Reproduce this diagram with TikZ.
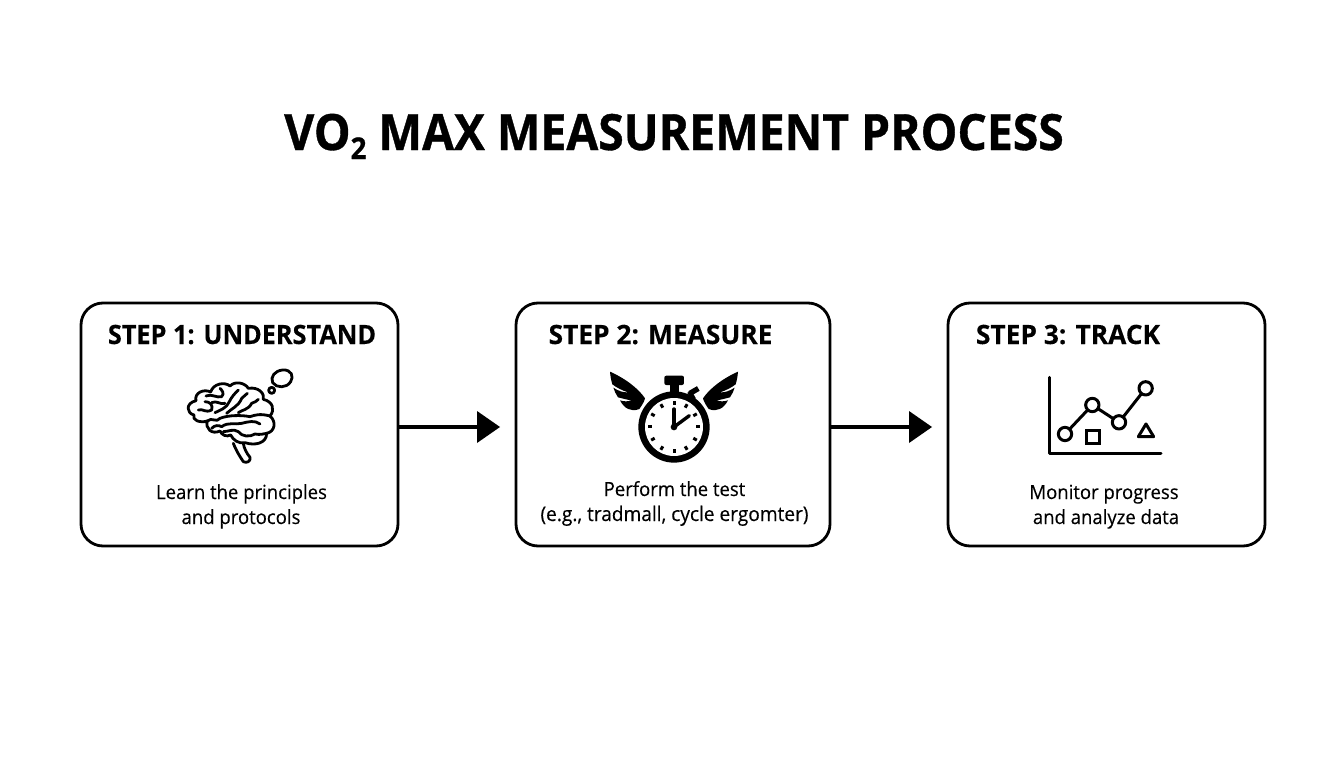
\documentclass[tikz,border=0pt]{standalone}
\usepackage{fontspec}
\setmainfont{Open Sans}
\newfontfamily\bodyfont{Open Sans}[FakeBold=0.3,FakeStretch=0.95]
\newfontfamily\headfont{Open Sans}[FakeStretch=0.95,BoldFeatures={FakeBold=0.25}]
\newfontfamily\headwide{Open Sans}[FakeStretch=0.99,BoldFeatures={FakeBold=0.25}]
\newfontfamily\titlefont{Open Sans}[FakeStretch=0.925,BoldFeatures={FakeBold=0.7}]
\tikzset{
  stepbox/.style={draw=black,fill=white,line width=2.8pt,rounded corners=22pt,minimum width=317pt,minimum height=243pt,inner sep=0pt,outer sep=0pt},
  stepname/.style={anchor=base,inner sep=0pt,font=\headfont\bfseries\fontsize{26.6}{28}\selectfont},
  stepwide/.style={stepname,font=\headwide\bfseries\fontsize{26.6}{28}\selectfont},
  bodytext/.style={anchor=base,inner sep=0pt,font=\bodyfont\fontsize{19.5}{22}\selectfont},
  flow/.style={line width=4pt},
  flowhead/.style={fill=black,draw=none},
  icon/.style={line width=2.8pt,line cap=round,line join=round},
}
\newcommand{\wingshape}{\fill (30,20) .. controls (75,40) and (115,70) .. (135,100) .. controls (133,110) and (125,122) .. (118,132)
 .. controls (105,137) and (95,137) .. (85,132) .. controls (75,128) and (66,118) .. (60,106)
 .. controls (72,110) and (84,110) .. (94,106) .. controls (80,104) and (66,100) .. (54,97)
 .. controls (48,88) and (43,78) .. (40,68) .. controls (55,78) and (70,83) .. (84,82)
 .. controls (66,76) and (50,68) .. (37,58) .. controls (33,45) and (31,32) .. (30,20) -- cycle;}
\begin{document}
\begin{tikzpicture}[x=1pt,y=-1pt]
\useasboundingbox (0,0) rectangle (1344,768);
\fill[white] (0,0) rectangle (1344,768);
\node[anchor=base,inner sep=0pt,font=\titlefont\bfseries\fontsize{50}{54}\selectfont] (title) at (674,150) {VO\raisebox{-9pt}{\fontsize{30}{30}\selectfont 2} MAX MEASUREMENT PROCESS};
\node[stepbox] (b1) at (239.5,424.5) {};
\node[stepbox,minimum width=314pt] (b2) at (673,424.5) {};
\node[stepbox] (b3) at (1106.5,424.5) {};
\node[stepname] (s1) at (242,344) {STEP 1: UNDERSTAND};
\node[stepwide] (s2) at (660.5,344) {STEP 2: MEASURE};
\node[stepwide] (s3) at (1068,344) {STEP 3: TRACK};
\node[bodytext] (t1a) at (241.5,499) {Learn the principles};
\node[bodytext] (t1b) at (241,524) {and protocols};
\node[bodytext] (t2a) at (674.5,496) {Perform the test};
\node[bodytext,font=\bodyfont\fontsize{20.1}{22}\selectfont] (t2b) at (674.5,521) {(e.g., tradmall, cycle ergomter)};
\node[bodytext] (t3a) at (1104,499) {Monitor progress};
\node[bodytext] (t3b) at (1106,524) {and analyze data};
% connectors
\coordinate (a1) at ([xshift=-16pt,yshift=-2.5pt]b2.west);
\coordinate (a2) at ([xshift=-16pt,yshift=-2.5pt]b3.west);
\draw[flow] ([yshift=-2.5pt]b1.east) -- ([xshift=-20pt]a1);
\fill[flowhead] (a1) -- ++(-23,-16) -- ++(0,32) -- cycle;
\draw[flow] ([yshift=-2.5pt]b2.east) -- ([xshift=-20pt]a2);
\fill[flowhead] (a2) -- ++(-23,-16) -- ++(0,32) -- cycle;
% brain
\begin{scope}[shift={(170,360)},x=.3333pt,y=-.3333pt,icon]
\draw (150,213) .. controls (125,225) and (105,205) .. (112,183)
 .. controls (90,190) and (65,180) .. (72,165)
 .. controls (50,160) and (45,130) .. (78,122)
 .. controls (72,100) and (100,85) .. (122,96)
 .. controls (130,70) and (165,65) .. (180,78)
 .. controls (195,62) and (225,68) .. (235,85)
 .. controls (265,80) and (285,100) .. (280,118)
 .. controls (310,125) and (315,150) .. (300,168)
 .. controls (320,185) and (315,215) .. (290,220)
 .. controls (290,250) and (255,258) .. (225,248)
 .. controls (205,252) and (190,240) .. (182,225)
 .. controls (170,232) and (155,225) .. (150,213);
\draw (190,250) .. controls (200,275) and (210,290) .. (220,305) .. controls (230,310) and (243,305) .. (240,292) .. controls (230,280) and (222,265) .. (220,250);
\draw (112,183) .. controls (125,170) and (140,190) .. (150,175) .. controls (175,165) and (215,165) .. (240,170) .. controls (255,165) and (270,160) .. (300,168);
\draw (125,205) .. controls (135,195) and (145,195) .. (155,200) .. controls (175,185) and (195,195) .. (215,190) .. controls (235,185) and (255,180) .. (270,192);
\draw (160,215) .. controls (175,215) and (190,205) .. (205,215) .. controls (215,230) and (240,232) .. (255,222) .. controls (270,225) and (280,222) .. (290,220);
\draw (85,150) .. controls (100,145) and (105,160) .. (125,150) .. controls (130,135) and (120,125) .. (105,125);
\draw (108,108) .. controls (125,100) and (140,115) .. (155,110) .. controls (165,100) and (155,90) .. (150,85);
\draw (125,128) .. controls (140,120) and (150,135) .. (165,130);
\draw (135,158) .. controls (150,150) and (170,145) .. (178,125) .. controls (185,110) and (195,100) .. (205,90);
\draw (170,160) .. controls (185,145) and (205,140) .. (215,115) .. controls (222,110) and (225,105) .. (232,100);
\draw (205,158) .. controls (215,150) and (235,150) .. (245,130) .. controls (255,125) and (260,125) .. (265,118);
\draw (338,30) .. controls (365,28) and (372,50) .. (362,65) .. controls (350,85) and (320,85) .. (308,68) .. controls (300,50) and (315,32) .. (338,30) -- cycle;
\draw (305,91) circle (9);
\end{scope}
% stopwatch
\begin{scope}[shift={(748,365)},x=-.3333pt,y=-.3333pt]
\wingshape
\end{scope}
\begin{scope}[shift={(600,365)},x=.3333pt,y=-.3333pt]
\wingshape
\fill[rounded corners=2pt] (193,32) rectangle (252,60);
\fill (209,58) rectangle (236,90);
\fill[rotate around={30:(282,78)}] (267,70) rectangle (297,86);
\fill[rotate around={30:(275,92)}] (268,78) rectangle (282,105);
\fill (222,186) circle (107);
\fill[white] (222,186) circle (87);
\foreach \a in {0,30,...,330}{
\fill[rotate around={\a:(222,186)}] (217.5,107) rectangle (226.5,119);}
\draw[line width=3.4pt,line cap=round] (222,186) -- (222,132);
\draw[line width=3.4pt,line cap=round] (222,186) -- (268,152);
\fill (222,186) circle (10);
\end{scope}
% chart
\begin{scope}[shift={(1035,370)},x=.3333pt,y=-.3333pt,icon,line width=3pt]
\draw (42,22) -- (42,252) -- (378,252);
\draw (90,192) -- (172,105) -- (252,157) -- (332,55);
\foreach \p in {(90,192),(172,105),(252,157),(332,55)}{\draw[fill=white] \p circle (20);}
\draw[line cap=butt,line join=miter] (153,181) rectangle (192,220);
\draw (310,200) -- (356,200) -- (333,162) -- cycle;
\end{scope}
\end{tikzpicture}
\end{document}
